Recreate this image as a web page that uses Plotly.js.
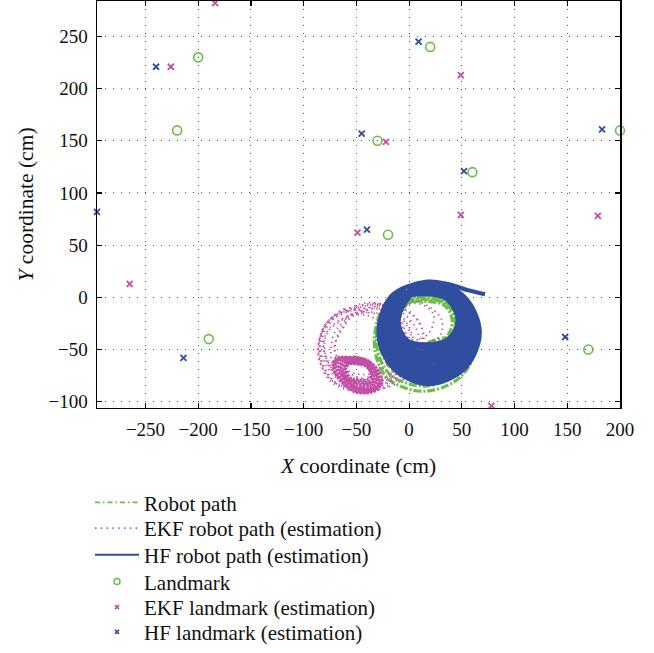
<!DOCTYPE html>
<html>
<head>
<meta charset="utf-8">
<script src="https://cdn.plot.ly/plotly-3.0.1.min.js"></script>
<style>html,body{margin:0;padding:0;background:#fff;}#chart{width:654px;height:653px;}</style>
</head>
<body>
<div id="chart"></div>
<script>
// ---- Data (cm) ----
// True landmarks
const landmarkX = [-200, -220, -190, 20, -30, 60, 200, -20, 170];
const landmarkY = [230, 160, -40, 240, 150, 120, 160, 60, -50];
// EKF landmark estimates
const ekfLandmarkX = [-184, -226, 49, -22, 49, 179, -49, -265, 78];
const ekfLandmarkY = [282, 221, 213, 149, 79, 78, 62, 13, -104];
// HF landmark estimates
const hfLandmarkX = [-240, -296, 9, -45, 52, 183, -40, -214, 148];
const hfLandmarkY = [221, 82, 245, 157, 121, 161, 65, -58, -38];

// True robot path (laps)
const robotPathX = [
  15, 50, 65, 50, 15, -21, -33, -20,
  15, 42, 53, 42, 15, -12, -23, -12,
  15, 34, 41, 34, 16, 6, 10, 25, 40, 44, 36, 22, 10, -3, -11, -4,
  15, 46, 59, 46, 15, -16, -29, -16,
  15, 38, 47, 38, 16, -8, -17, -8,
  15, 48, 62, 48, 15, -19, -31, -18,
  15, 40, 50, 40, 15, -10, -20, -10,
  15, 44, 56, 44, 15, -14, -26, -14,
  15, 36, 44, 36, 16, -5, -14, -6, 15
];
const robotPathY = [
  12, -3, -38, -75, -90, -77, -42, -4,
  4, -5, -31, -58, -69, -60, -34, -7,
  -4, -8, -24, -40, -47, -52, -62, -64, -57, -46, -39, -42, -46, -43, -26, -9,
  8, -4, -35, -66, -79, -69, -38, -5,
  0, -7, -28, -49, -58, -52, -30, -8,
  10, -4, -36, -71, -85, -73, -40, -5,
  2, -6, -29, -53, -63, -56, -32, -7,
  6, -5, -33, -62, -74, -64, -36, -6,
  -2, -7, -26, -44, -52, -47, -28, -8, -2
];

// EKF robot path estimate: wide drifting laps (drawn dotted)
const ekfPathX = [
  -45, -22, -4, 4, -4, -28, -57, -78, -85, -73,
  -52, -27, -9, -1, -11, -33, -61, -77, -82, -70,
  -38, -14, 1, 3, -14, -40, -66, -83, -81, -61,
  -56, -31, -13, -6, -19, -43, -66, -79, -77,
  -29, -6, 9, 8, -9, -37, -63, -74, -66,
  0, 19, 31, 29, 12, -4, -9,
  -6, 9, 23, 19, 4, -8,
  -21, -1, 12, 10, -7, -34, -59, -71, -59,
  -61, -41, -26, -21, -31, -51, -71, -81, -75,
  -34, -11, -2, -8, -27, -53, -73, -85, -79, -56,
  -26, -8, 6, 14, 6, -14, -44, -70, -84, -86, -78, -56,
  -42, -24, -14, -12, -22, -40, -58, -70, -66, -56,
  -48, -30, -15, -6, -12, -20, -48, -75, -86, -76, -48
];
const ekfPathY = [
  -8, -9, -22, -44, -68, -86, -86, -66, -42, -19,
  -12, -11, -27, -49, -72, -84, -82, -61, -39, -19,
  -5, -13, -34, -58, -81, -91, -85, -60, -31, -11,
  -16, -15, -31, -53, -75, -83, -77, -56, -33,
  -8, -15, -36, -61, -81, -89, -81, -56, -27,
  -3, -9, -22, -37, -44, -40, -21,
  -9, -6, -16, -34, -41, -31,
  -10, -13, -29, -51, -71, -79, -71, -48, -22,
  -20, -17, -27, -49, -71, -80, -73, -50, -29,
  -11, -19, -41, -63, -81, -87, -79, -55, -27, -13,
  -6, -10, -20, -38, -60, -78, -88, -82, -64, -44, -24, -10,
  -14, -18, -30, -48, -66, -74, -70, -52, -32, -20,
  -9, -6, -14, -30, -55, -78, -90, -80, -50, -22, -9
];
// EKF robot path estimate: final tight loops
const ekfRingX = [
  -53, -37, -26, -31, -50, -64, -72, -70,
  -52, -38, -28, -33, -50, -62, -70, -68,
  -52, -39, -30, -34, -49, -61, -68, -66,
  -51, -39, -31, -35, -49, -60, -66, -64,
  -51, -40, -32, -36, -49, -59, -64, -62,
  -50, -40, -34, -37, -48, -58, -62, -60,
  -50, -41, -35, -38, -48, -57, -61, -59,
  -50, -41, -36, -39, -48, -56, -60, -58,
  -53, -38, -27, -32, -50, -63, -71, -69, -53
];
const ekfRingY = [
  -57, -62, -78, -89, -91, -81, -68, -59,
  -58, -63, -78, -87, -89, -80, -68, -60,
  -59, -63, -77, -86, -87, -80, -68, -61,
  -60, -64, -77, -85, -86, -79, -68, -62,
  -61, -64, -76, -83, -84, -79, -68, -63,
  -62, -65, -76, -82, -83, -78, -68, -64,
  -63, -65, -75, -81, -81, -78, -68, -64,
  -64, -66, -74, -79, -79, -77, -68, -65,
  -58, -62, -78, -88, -90, -81, -68, -60, -58
];

// HF robot path estimate (laps, then final tail)
const hfPathX = [
  17, 45, 57, 45, 17, -10, -21, -11,
  16, 40, 52, 41, 16, -6, -15, -7,
  17, 49, 63, 49, 17, -13, -26, -14,
  16, 37, 48, 38, 16, -3, -12, -4,
  17, 48, 61, 48, 17, -12, -24, -13,
  17, 42, 54, 42, 17, -7, -17, -8,
  16, 36, 46, 37, 16, -2, -10, -3,
  17, 51, 65, 51, 17, -14, -27, -16,
  16, 39, 50, 40, 16, -5, -14, -6,
  17, 46, 59, 47, 17, -11, -22, -12,
  17, 43, 56, 44, 17, -9, -19, -9,
  17, 52, 67, 52, 17, -15, -29, -17,
  17, 40, 55, 72
];
const hfPathY = [
  10, 0, -29, -56, -66, -56, -30, -1,
  6, -1, -25, -48, -55, -48, -27, -3,
  13, 1, -32, -63, -76, -63, -34, 0,
  4, -2, -23, -42, -48, -43, -25, -4,
  12, 0, -31, -61, -73, -60, -33, 0,
  7, -1, -26, -50, -59, -51, -28, -2,
  3, -2, -22, -40, -45, -41, -24, -4,
  14, 1, -33, -66, -80, -65, -35, 1,
  5, -1, -24, -45, -52, -46, -26, -3,
  11, 0, -30, -58, -69, -58, -32, -1,
  8, -1, -27, -53, -62, -54, -29, -2,
  15, 1, -34, -69, -83, -68, -36, 1,
  15, 12, 7, 3
];

// Axis ticks
const xTicks = [-250, -200, -150, -100, -50, 0, 50, 100, 150, 200];
const yTicks = [-100, -50, 0, 50, 100, 150, 200, 250];

// ---- Styling ----
const GREEN = '#6bbf47';
const MAGENTA = '#c24fa6';
const BLUE = '#2f4e9f';
const FONT = 'Liberation Serif, Times New Roman, serif';

const traces = [
  // data traces (legend entries come from the key traces below)
  {x: robotPathX, y: robotPathY, mode: 'lines', name: 'Robot path', showlegend: false,
   line: {color: GREEN, width: 3.2, dash: '8px,2px,2px,2px', shape: 'spline', smoothing: 1}},
  {x: ekfPathX, y: ekfPathY, mode: 'lines', name: 'EKF robot path (estimation)', showlegend: false,
   line: {color: MAGENTA, width: 1.8, dash: '1.3px,3.8px', shape: 'spline', smoothing: 1}},
  {x: ekfRingX, y: ekfRingY, mode: 'lines', name: 'EKF robot path (estimation)', showlegend: false,
   line: {color: MAGENTA, width: 3, dash: '2.5px,1px', shape: 'spline', smoothing: 1}},
  {x: hfPathX, y: hfPathY, mode: 'lines', name: 'HF robot path (estimation)', showlegend: false,
   line: {color: BLUE, width: 4.2, shape: 'spline', smoothing: 1}},
  {x: landmarkX, y: landmarkY, mode: 'markers', name: 'Landmark', showlegend: false, cliponaxis: false,
   marker: {symbol: 'circle-open', size: 9, color: GREEN, line: {width: 1.6, color: GREEN}}},
  {x: ekfLandmarkX, y: ekfLandmarkY, mode: 'markers', name: 'EKF landmark (estimation)', showlegend: false, cliponaxis: false,
   marker: {symbol: 'x-thin', size: 6, color: MAGENTA, line: {width: 1.8, color: MAGENTA}}},
  {x: hfLandmarkX, y: hfLandmarkY, mode: 'markers', name: 'HF landmark (estimation)', showlegend: false, cliponaxis: false,
   marker: {symbol: 'x-thin', size: 6, color: BLUE, line: {width: 1.8, color: BLUE}}},
  // legend keys
  {x: [null], y: [null], mode: 'lines', name: 'Robot path', legend: 'legend',
   line: {color: GREEN, width: 1.6, dash: '5px,3px,1.5px,3px'}},
  {x: [null], y: [null], mode: 'lines', name: 'EKF robot path (estimation)', legend: 'legend2',
   line: {color: MAGENTA, width: 1.6, dash: '1.5px,4.3px'}},
  {x: [null], y: [null], mode: 'lines', name: 'HF robot path (estimation)', legend: 'legend3',
   line: {color: BLUE, width: 1.8}},
  {x: [null], y: [null], mode: 'markers', name: 'Landmark', legend: 'legend4',
   marker: {symbol: 'circle-open', size: 6, color: GREEN, line: {width: 1.5, color: GREEN}}},
  {x: [null], y: [null], mode: 'markers', name: 'EKF landmark (estimation)', legend: 'legend5',
   marker: {symbol: 'x-thin', size: 4, color: MAGENTA, line: {width: 1.6, color: MAGENTA}}},
  {x: [null], y: [null], mode: 'markers', name: 'HF landmark (estimation)', legend: 'legend6',
   marker: {symbol: 'x-thin', size: 4, color: BLUE, line: {width: 1.6, color: BLUE}}}
];

const axisCommon = {
  showline: true, linecolor: '#000', linewidth: 1.5, mirror: 'ticks',
  ticks: 'inside', ticklen: 5, tickwidth: 1.2, tickcolor: '#000',
  showgrid: true, gridcolor: '#555', gridwidth: 1, griddash: '1px,7px',
  zeroline: false, tickfont: {family: FONT, size: 19, color: '#111'},
  ticklabelstandoff: 4
};

// paper = whole figure below a 1px top margin; the axes occupy its upper part
const H = 653, PAPER_H = 652;
const plotBottomPx = 413;
const rowCentersPx = [509, 535, 562, 589, 615, 640];
const legendNames = ['legend', 'legend2', 'legend3', 'legend4', 'legend5', 'legend6'];

const layout = {
  width: 654, height: H,
  margin: {l: 97, r: 34, t: 1, b: 0},
  paper_bgcolor: '#fff', plot_bgcolor: '#fff',
  font: {family: FONT, color: '#111'},
  showlegend: true,
  xaxis: Object.assign({}, axisCommon, {
    range: [-296, 200], tickvals: xTicks,
    title: {text: '<i>X</i> coordinate (cm)', font: {family: FONT, size: 21.5, color: '#111'}, standoff: 18}
  }),
  yaxis: Object.assign({}, axisCommon, {
    range: [-106, 284], tickvals: yTicks,
    domain: [(H - plotBottomPx) / PAPER_H, 1],
    title: {text: '<i>Y</i> coordinate (cm)', font: {family: FONT, size: 21.5, color: '#111'}, standoff: 9}
  })
};
legendNames.forEach((name, i) => {
  layout[name] = {
    x: (90 - 97) / 523, xanchor: 'left',
    y: (H - rowCentersPx[i]) / PAPER_H, yanchor: 'middle',
    font: {family: FONT, size: 21, color: '#111'},
    bgcolor: 'rgba(0,0,0,0)', itemwidth: 44, borderwidth: 0
  };
});

Plotly.newPlot('chart', traces, layout, {staticPlot: true, displayModeBar: false});
</script>
</body>
</html>
